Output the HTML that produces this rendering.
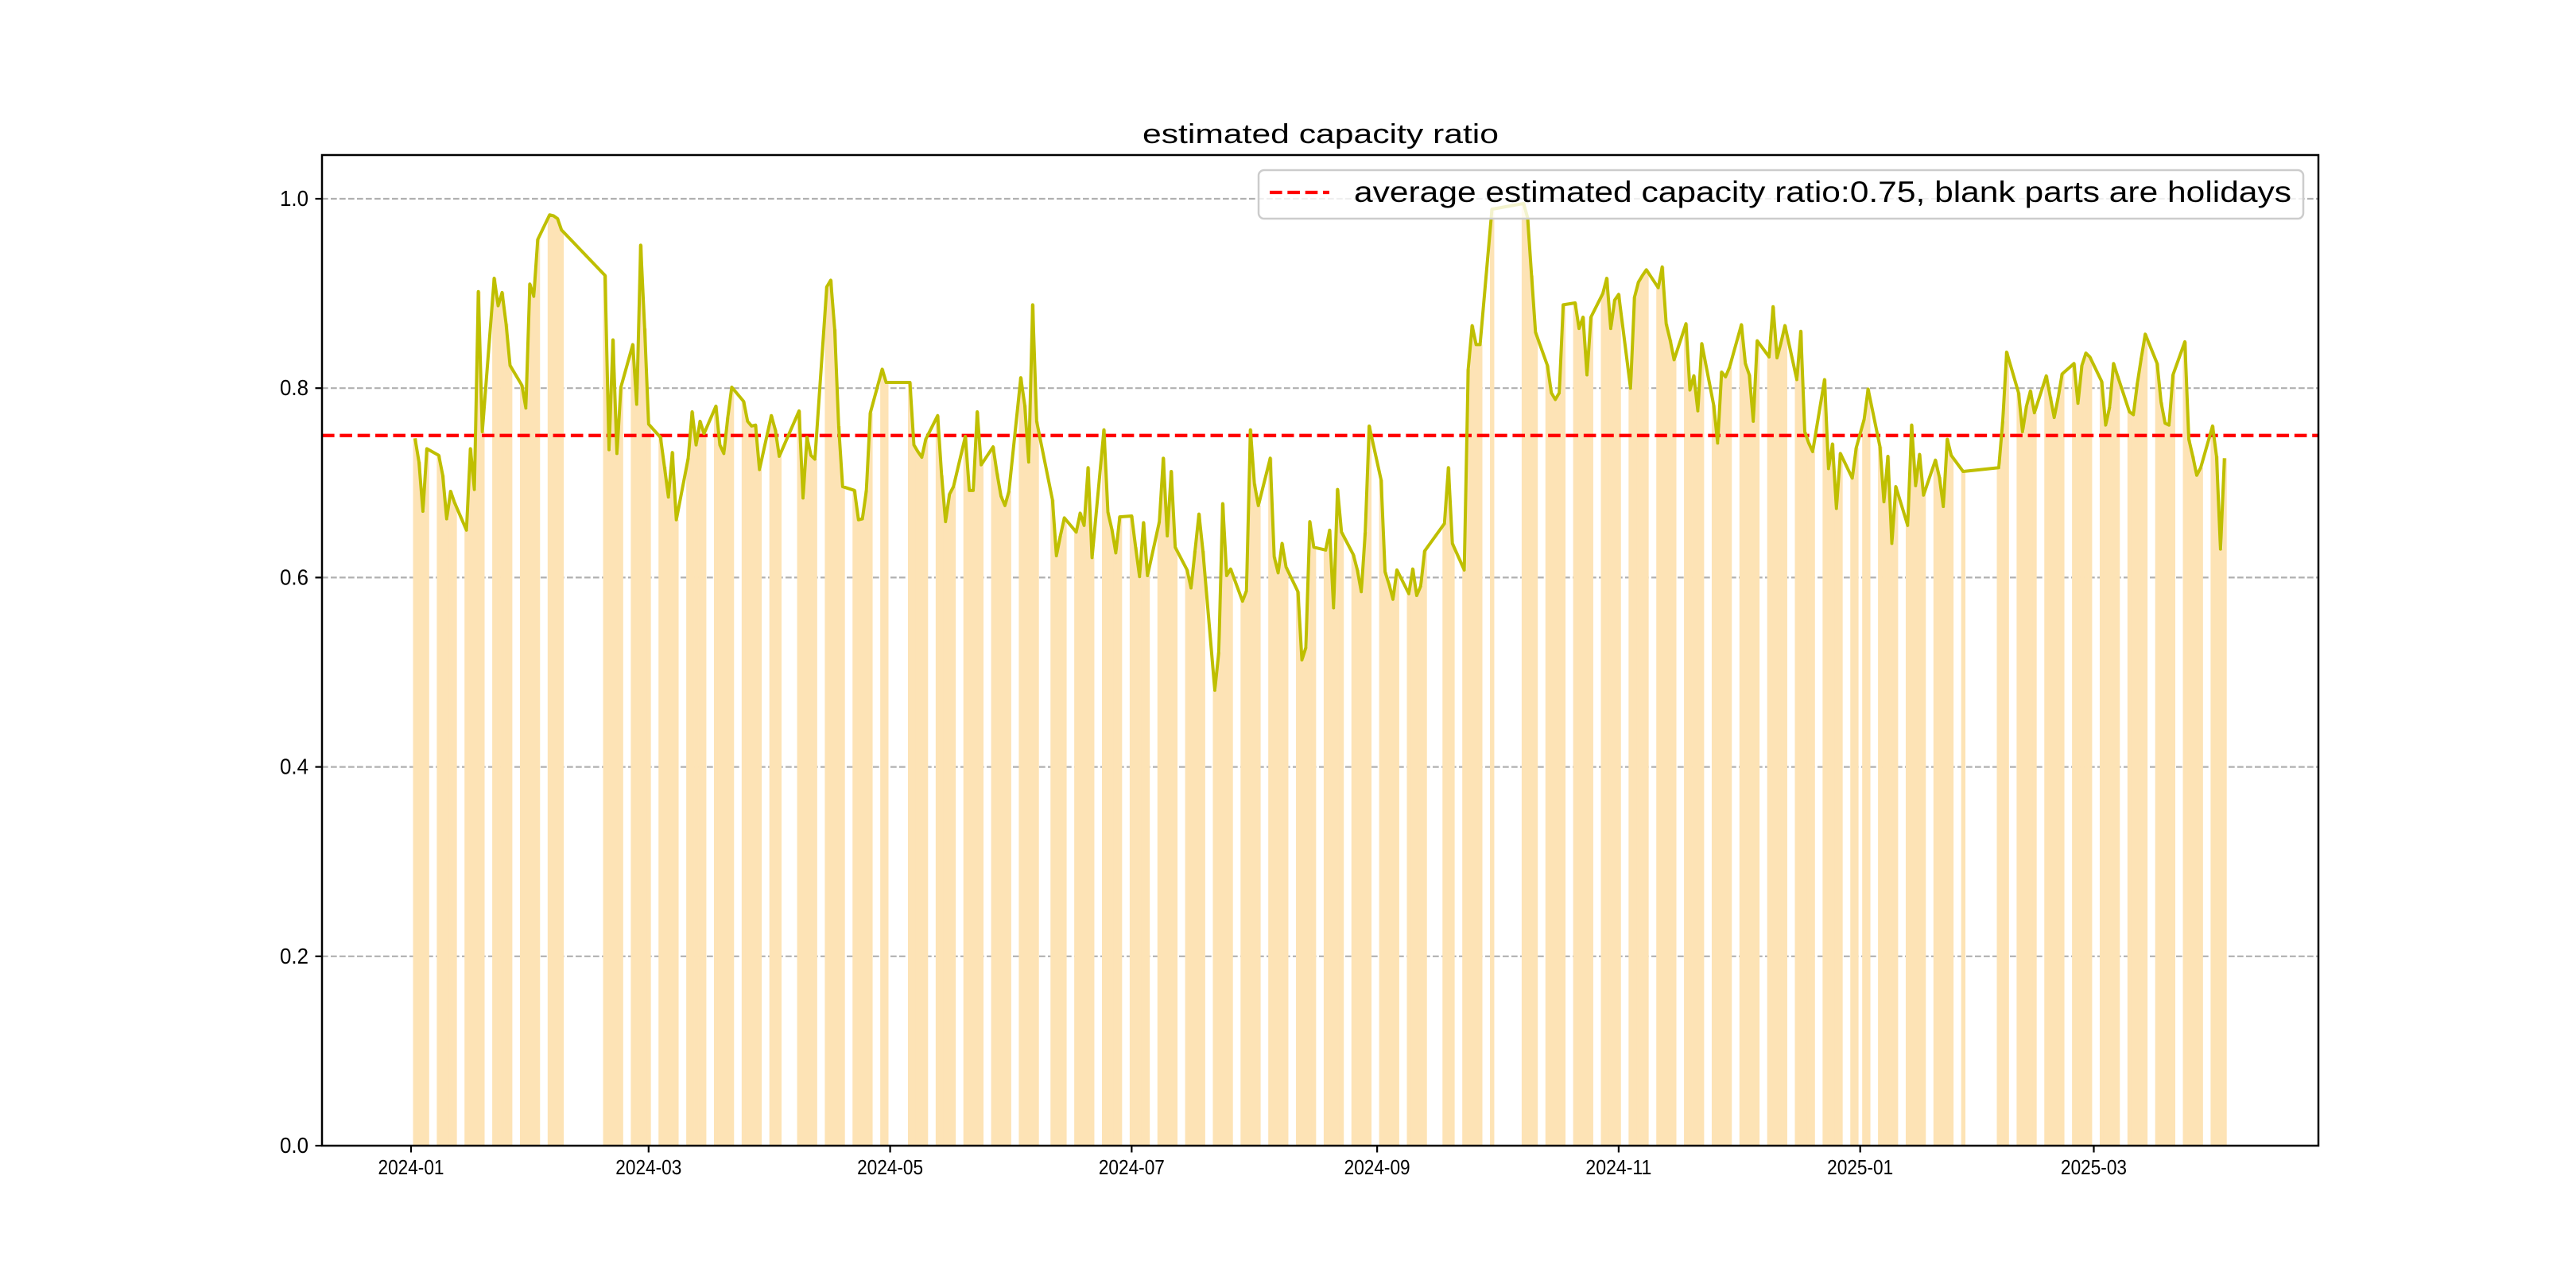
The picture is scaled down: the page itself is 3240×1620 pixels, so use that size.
<!DOCTYPE html>
<html>
<head>
<meta charset="utf-8">
<style>
  html, body { margin: 0; padding: 0; background: #ffffff; }
  svg { display: block; }
  text { font-family: "WenQuanYi Zen Hei", "Liberation Sans", "Noto Sans CJK SC", sans-serif; fill: #000; }
</style>
</head>
<body>
<svg id="chart" width="3240" height="1620" viewBox="0 0 3240 1620" xmlns="http://www.w3.org/2000/svg">
  <rect x="0" y="0" width="3240" height="1620" fill="#ffffff"/>
  <g id="grid"></g>
  <g id="bars"></g>
  <g id="avgline"></g>
  <g id="series"></g>
  <g id="axes"></g>
  <text x="1437" y="180" font-size="34" textLength="448" lengthAdjust="spacingAndGlyphs">estimated capacity ratio</text>
  <g>
    <rect x="1583" y="214" width="1314" height="61" rx="7" ry="7" fill="#ffffff" fill-opacity="0.8" stroke="#cccccc" stroke-width="2.5"/>
    <line x1="1597" y1="242" x2="1672" y2="242" stroke="#ff0000" stroke-width="4.2" stroke-dasharray="15.6,6.75"/>
    <text x="1703" y="254" font-size="37" textLength="1179" lengthAdjust="spacingAndGlyphs">average estimated capacity ratio:0.75, blank parts are holidays</text>
  </g>
</svg>
<script>
const dates = [
"2024-01-02","2024-01-03","2024-01-04","2024-01-05",
"2024-01-08","2024-01-09","2024-01-10","2024-01-11","2024-01-12",
"2024-01-15","2024-01-16","2024-01-17","2024-01-18","2024-01-19",
"2024-01-22","2024-01-23","2024-01-24","2024-01-25","2024-01-26",
"2024-01-29","2024-01-30","2024-01-31","2024-02-01","2024-02-02",
"2024-02-05","2024-02-06","2024-02-07","2024-02-08",
"2024-02-19","2024-02-20","2024-02-21","2024-02-22","2024-02-23",
"2024-02-26","2024-02-27","2024-02-28","2024-02-29","2024-03-01",
"2024-03-04","2024-03-05","2024-03-06","2024-03-07","2024-03-08",
"2024-03-11","2024-03-12","2024-03-13","2024-03-14","2024-03-15",
"2024-03-18","2024-03-19","2024-03-20","2024-03-21","2024-03-22",
"2024-03-25","2024-03-26","2024-03-27","2024-03-28","2024-03-29",
"2024-04-01","2024-04-02","2024-04-03",
"2024-04-08","2024-04-09","2024-04-10","2024-04-11","2024-04-12",
"2024-04-15","2024-04-16","2024-04-17","2024-04-18","2024-04-19",
"2024-04-22","2024-04-23","2024-04-24","2024-04-25","2024-04-26",
"2024-04-29","2024-04-30",
"2024-05-06","2024-05-07","2024-05-08","2024-05-09","2024-05-10",
"2024-05-13","2024-05-14","2024-05-15","2024-05-16","2024-05-17",
"2024-05-20","2024-05-21","2024-05-22","2024-05-23","2024-05-24",
"2024-05-27","2024-05-28","2024-05-29","2024-05-30","2024-05-31",
"2024-06-03","2024-06-04","2024-06-05","2024-06-06","2024-06-07",
"2024-06-11","2024-06-12","2024-06-13","2024-06-14",
"2024-06-17","2024-06-18","2024-06-19","2024-06-20","2024-06-21",
"2024-06-24","2024-06-25","2024-06-26","2024-06-27","2024-06-28",
"2024-07-01","2024-07-02","2024-07-03","2024-07-04","2024-07-05",
"2024-07-08","2024-07-09","2024-07-10","2024-07-11","2024-07-12",
"2024-07-15","2024-07-16","2024-07-17","2024-07-18","2024-07-19",
"2024-07-22","2024-07-23","2024-07-24","2024-07-25","2024-07-26",
"2024-07-29","2024-07-30","2024-07-31","2024-08-01","2024-08-02",
"2024-08-05","2024-08-06","2024-08-07","2024-08-08","2024-08-09",
"2024-08-12","2024-08-13","2024-08-14","2024-08-15","2024-08-16",
"2024-08-19","2024-08-20","2024-08-21","2024-08-22","2024-08-23",
"2024-08-26","2024-08-27","2024-08-28","2024-08-29","2024-08-30",
"2024-09-02","2024-09-03","2024-09-04","2024-09-05","2024-09-06",
"2024-09-09","2024-09-10","2024-09-11","2024-09-12","2024-09-13",
"2024-09-18","2024-09-19","2024-09-20",
"2024-09-23","2024-09-24","2024-09-25","2024-09-26","2024-09-27",
"2024-09-30",
"2024-10-08","2024-10-09","2024-10-10","2024-10-11",
"2024-10-14","2024-10-15","2024-10-16","2024-10-17","2024-10-18",
"2024-10-21","2024-10-22","2024-10-23","2024-10-24","2024-10-25",
"2024-10-28","2024-10-29","2024-10-30","2024-10-31","2024-11-01",
"2024-11-04","2024-11-05","2024-11-06","2024-11-07","2024-11-08",
"2024-11-11","2024-11-12","2024-11-13","2024-11-14","2024-11-15",
"2024-11-18","2024-11-19","2024-11-20","2024-11-21","2024-11-22",
"2024-11-25","2024-11-26","2024-11-27","2024-11-28","2024-11-29",
"2024-12-02","2024-12-03","2024-12-04","2024-12-05","2024-12-06",
"2024-12-09","2024-12-10","2024-12-11","2024-12-12","2024-12-13",
"2024-12-16","2024-12-17","2024-12-18","2024-12-19","2024-12-20",
"2024-12-23","2024-12-24","2024-12-25","2024-12-26","2024-12-27",
"2024-12-30","2024-12-31",
"2025-01-02","2025-01-03",
"2025-01-06","2025-01-07","2025-01-08","2025-01-09","2025-01-10",
"2025-01-13","2025-01-14","2025-01-15","2025-01-16","2025-01-17",
"2025-01-20","2025-01-21","2025-01-22","2025-01-23","2025-01-24",
"2025-01-27",
"2025-02-05","2025-02-06","2025-02-07",
"2025-02-10","2025-02-11","2025-02-12","2025-02-13","2025-02-14",
"2025-02-17","2025-02-18","2025-02-19","2025-02-20","2025-02-21",
"2025-02-24","2025-02-25","2025-02-26","2025-02-27","2025-02-28",
"2025-03-03","2025-03-04","2025-03-05","2025-03-06","2025-03-07",
"2025-03-10","2025-03-11","2025-03-12","2025-03-13","2025-03-14",
"2025-03-17","2025-03-18","2025-03-19","2025-03-20","2025-03-21",
"2025-03-24","2025-03-25","2025-03-26","2025-03-27","2025-03-28",
"2025-03-31","2025-04-01","2025-04-02","2025-04-03"
];
const ratios = [
.747,.722,.670,.736,
.729,.708,.662,.691,.679,
.650,.736,.693,.902,.754,
.916,.887,.901,.868,.824,
.803,.779,.910,.897,.957,
.983,.982,.979,.967,
.919,.735,.851,.731,.801,
.846,.783,.951,.863,.762,
.748,.717,.685,.732,.661,
.726,.775,.740,.765,.752,
.781,.740,.731,.769,.801,
.786,.765,.760,.761,.714,
.771,.756,.728,
.776,.684,.748,.729,.725,
.907,.914,.862,.760,.696,
.692,.661,.662,.692,.774,
.820,.806,
.806,.740,.733,.727,.746,
.771,.708,.659,.688,.696,
.749,.692,.692,.775,.719,
.738,.710,.686,.676,.691,
.811,.782,.722,.888,.765,
.682,.623,.644,.663,
.648,.668,.655,.716,.621,
.756,.669,.651,.626,.664,
.665,.632,.601,.658,.602,
.659,.726,.644,.712,.632,
.608,.589,.628,.667,.628,
.481,.521,.678,.602,.609,
.575,.586,.756,.699,.676,
.726,.622,.605,.636,.611,
.585,.513,.526,.659,.632,
.629,.650,.568,.693,.648,
.624,.608,.585,.648,.760,
.703,.606,.593,.577,.608,
.583,.609,.581,.591,.628,
.657,.716,.636,
.608,.820,.866,.846,.846,
.989,
.995,.980,.919,.859,
.824,.795,.788,.795,.888,
.890,.863,.875,.814,.875,
.900,.916,.863,.893,.899,
.800,.896,.912,.919,.925,
.906,.928,.868,.851,.830,
.868,.798,.813,.776,.847,
.782,.742,.817,.812,.822,
.867,.826,.814,.765,.850,
.833,.886,.832,.848,.866,
.809,.860,.754,.742,.733,
.809,.715,.741,.673,.731,
.705,.737,
.767,.799,
.738,.680,.728,.636,.696,
.655,.761,.697,.730,.687,
.724,.706,.675,.746,.729,
.712,
.716,.765,.838,
.795,.754,.781,.797,.774,
.813,.791,.769,.790,.815,
.826,.784,.824,.837,.833,
.807,.761,.780,.826,.813,
.775,.772,.805,.832,.857,
.826,.785,.763,.761,.814,
.849,.746,.728,.708,.716,
.760,.728,.630,.726
];
const averageRatio = 0.75;
const yTicks = [0.0, 0.2, 0.4, 0.6, 0.8, 1.0];
const yTickLabels = ["0.0", "0.2", "0.4", "0.6", "0.8", "1.0"];
const xTicks = ["2024-01-01","2024-03-01","2024-05-01","2024-07-01","2024-09-01","2024-11-01","2025-01-01","2025-03-01"];
const xTickLabels = ["2024-01","2024-03","2024-05","2024-07","2024-09","2024-11","2025-01","2025-03"];

const NS = "http://www.w3.org/2000/svg";
const AX = { left: 405, right: 2916, top: 195, bottom: 1441 };
const ORIGIN = Date.UTC(2024, 0, 1);
const PX_PER_DAY = 4.98;
const X0 = 517;
const PX_PER_UNIT = 1191;

function dayIndex(s) {
  const p = s.split("-").map(Number);
  return (Date.UTC(p[0], p[1] - 1, p[2]) - ORIGIN) / 86400000;
}
function xScale(s) { return X0 + dayIndex(s) * PX_PER_DAY; }
function yScale(v) { return AX.bottom - v * PX_PER_UNIT; }
function mk(tag, attrs) {
  const el = document.createElementNS(NS, tag);
  for (const k in attrs) el.setAttribute(k, attrs[k]);
  return el;
}

const gGrid = document.getElementById("grid");
const gBars = document.getElementById("bars");
const gAvg = document.getElementById("avgline");
const gSeries = document.getElementById("series");
const gAxes = document.getElementById("axes");

// grid lines
yTicks.forEach((t, i) => {
  if (t === 0) return;
  const y = yScale(t);
  const ln = mk("line", { x1: AX.left, x2: AX.right, y1: y, y2: y, stroke: "#b0b0b0", "stroke-width": 2.2, "stroke-dasharray": "7.7,3.3" });
  
  
  gGrid.appendChild(ln);
});

// bars
dates.forEach((d, i) => {
  const x = xScale(d) - PX_PER_DAY / 2;
  const y = yScale(ratios[i]);
  const r = mk("rect", { x: x, y: y, width: PX_PER_DAY + 0.4, height: AX.bottom - y, fill: "#fde3b5" });
  
  
  gBars.appendChild(r);
});

// average line
const ya = yScale(averageRatio);
const avg = mk("line", { x1: AX.left, x2: AX.right, y1: ya, y2: ya, stroke: "#ff0000", "stroke-width": 4.2, "stroke-dasharray": "15.6,6.75" });


gAvg.appendChild(avg);

// series line
const pts = dates.map((d, i) => xScale(d).toFixed(2) + "," + yScale(ratios[i]).toFixed(2)).join(" ");
const pl = mk("polyline", { points: pts, fill: "none", stroke: "#bfbf00", "stroke-width": 4, "stroke-linejoin": "round" });


gSeries.appendChild(pl);

// spines
const frame = mk("rect", { x: AX.left, y: AX.top, width: AX.right - AX.left, height: AX.bottom - AX.top, fill: "none", stroke: "#000", "stroke-width": 2.5 });


gAxes.appendChild(frame);

// y ticks
yTicks.forEach((t, i) => {
  const y = yScale(t);
  const tk = mk("line", { x1: AX.left - 8.5, x2: AX.left, y1: y, y2: y, stroke: "#000", "stroke-width": 2.2 });
  
  
  gAxes.appendChild(tk);
  const tx = mk("text", { x: AX.left - 17, y: y + 9, "font-size": 28, "text-anchor": "end", textLength: 36, lengthAdjust: "spacingAndGlyphs" });
  tx.textContent = yTickLabels[i];
  
  
  gAxes.appendChild(tx);
});

// x ticks
xTicks.forEach((t, i) => {
  const x = xScale(t);
  const tk = mk("line", { x1: x, x2: x, y1: AX.bottom, y2: AX.bottom + 8.5, stroke: "#000", "stroke-width": 2.2 });
  
  
  gAxes.appendChild(tk);
  const tx = mk("text", { x: x - 41.5, y: 1477, "font-size": 26, textLength: 83, lengthAdjust: "spacingAndGlyphs" });
  tx.textContent = xTickLabels[i];
  
  
  gAxes.appendChild(tx);
});
</script>
</body>
</html>
